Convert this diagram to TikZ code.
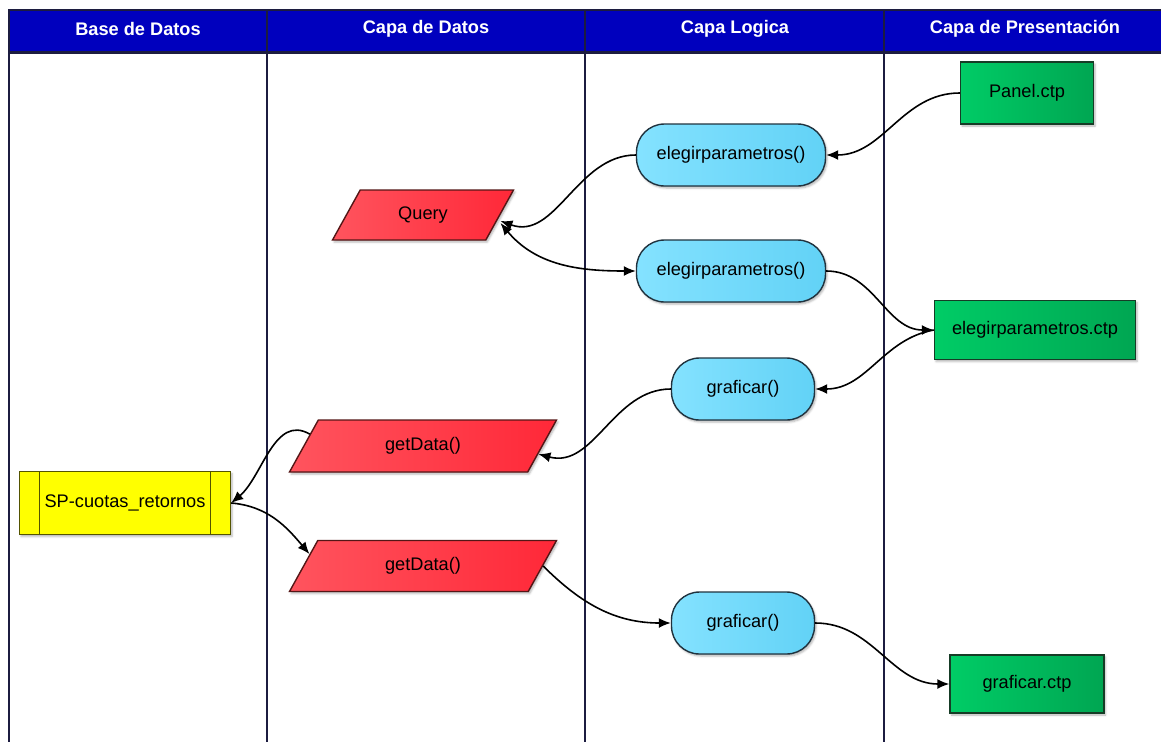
\documentclass[tikz,border=0pt]{standalone}
\usepackage{fontspec}
\setmainfont{Liberation Sans}
\usetikzlibrary{arrows.meta,shapes.geometric,shadows.blur}

\definecolor{hdrblue}{RGB}{0,0,190}
\definecolor{lanedark}{RGB}{28,28,64}
\definecolor{greenA}{RGB}{0,204,102}
\definecolor{greenB}{RGB}{0,166,82}
\definecolor{greenline}{RGB}{22,60,38}
\definecolor{blueA}{RGB}{132,226,255}
\definecolor{blueB}{RGB}{98,210,246}
\definecolor{blueline}{RGB}{32,50,62}
\definecolor{redA}{RGB}{255,84,94}
\definecolor{redB}{RGB}{255,40,56}
\definecolor{redline}{RGB}{84,22,22}
\definecolor{yel}{RGB}{255,255,0}
\definecolor{yelline}{RGB}{84,84,0}

\tikzset{
  lane/.style={draw=lanedark, line width=2pt},
  hdr/.style={text=white, font=\fontsize{18.2}{21}\selectfont\bfseries},
  base/.style={font=\fontsize{18.2}{21}\selectfont, line width=1.4pt, inner sep=0pt,
    blur shadow={shadow xshift=1.5pt, shadow yshift=-2pt, shadow blur steps=4,
      shadow blur radius=2pt, shadow opacity=30}},
  ctp/.style={base, rectangle, draw=greenline, left color=greenA, right color=greenB},
  method/.style={base, rectangle, rounded corners=28pt, draw=blueline,
    left color=blueA, right color=blueB, minimum height=62pt},
  % parallelogram: height set through the text box so the slant keeps its angle
  para/.style={base, trapezium, trapezium left angle=61, trapezium right angle=119,
    trapezium stretches body, text height=13pt, text depth=4pt,
    draw=redline, left color=redA, right color=redB},
  proc/.style={base, rectangle, draw=yelline, fill=yel,
    path picture={
      \draw[yelline, line width=1.4pt]
        ([xshift=20pt]path picture bounding box.north west) --
        ([xshift=20pt]path picture bounding box.south west);
      \draw[yelline, line width=1.4pt]
        ([xshift=-20pt]path picture bounding box.north east) --
        ([xshift=-20pt]path picture bounding box.south east);}},
  tip/.style={Latex[length=12pt,width=10pt]},
  flow/.style={draw=black, line width=1.6pt, -{Latex[length=12pt,width=10pt]}},
  flow2/.style={draw=black, line width=1.6pt, {Latex[length=12pt,width=10pt]}-{Latex[length=12pt,width=10pt]}},
}

\begin{document}
\begin{tikzpicture}[x=1pt, y=-1pt]
  \useasboundingbox (0,0) rectangle (1161,742);

  % header band
  \fill[hdrblue] (9,10) rectangle (1161,52);
  \draw[lanedark, line width=2pt] (9,10) -- (1161,10);
  \draw[lanedark, line width=3pt] (9,52) -- (1161,52);

  % lane separators
  \draw[lane] (9,9) -- (9,742);
  \draw[lane] (267,10) -- (267,742);
  \draw[lane] (585,10) -- (585,742);
  \draw[lane] (884,10) -- (884,742);

  % lane titles
  \node[hdr] (h1) at (138,29) {Base de Datos};
  \node[hdr] (h2) at (426,29) {Capa de Datos};
  \node[hdr] (h3) at (735,29) {Capa Logica};
  \node[hdr] (h4) at (1025,29) {Capa de Presentación};

  % presentation layer
  \node[ctp, minimum width=133pt, minimum height=62pt] (panel) at (1027,93) {Panel.ctp};
  \node[ctp, minimum width=201pt, minimum height=59pt] (elctp) at (1035,330) {elegirparametros.ctp};
  \node[ctp, minimum width=154pt, minimum height=58pt] (grctp) at (1027,684) {graficar.ctp};

  % logic layer
  \node[method, minimum width=189pt] (el1) at (731,155) {elegirparametros()};
  \node[method, minimum width=189pt] (el2) at (731,271) {elegirparametros()};
  \node[method, minimum width=143pt] (gr1) at (743,389) {graficar()};
  \node[method, minimum width=143pt] (gr2) at (743,623) {graficar()};

  % data layer
  \node[para, minimum width=181pt, inner ysep=16.5pt] (query) at (423,215) {Query};
  \node[para, minimum width=267pt, inner ysep=17.5pt] (gd1) at (423,446) {getData()};
  \node[para, minimum width=267pt, inner ysep=17pt] (gd2) at (423,566) {getData()};

  % database
  \node[proc, minimum width=211pt, minimum height=63pt] (sp) at (125,503) {SP-cuotas\_retornos};

  % connectors
  \draw[flow] (panel.west) to[out=180, in=0] (el1.east);
  \draw[flow] (el1.west) to[out=180, in=-20] ([yshift=-6pt]query.east);
  \draw[flow2] ([yshift=-8pt]query.east) to[out=-50, in=180] (el2.west);
  \draw[flow] (el2.east) to[out=0, in=180] (elctp.west);
  \draw[flow] (elctp.west) to[out=190, in=0] (gr1.east);
  \draw[flow] (gr1.west) to[out=180, in=-15] (gd1.-4);
  \draw[flow] (gd1.174) to[out=150, in=40] (sp.east);
  \draw[flow] (sp.east) to[out=-5, in=130] (gd2.174);
  \draw[flow] (gd2.east) to[out=-45, in=180] (gr2.west);
  \draw[flow] (gr2.east) to[out=0, in=180] (grctp.west);
\end{tikzpicture}
\end{document}
